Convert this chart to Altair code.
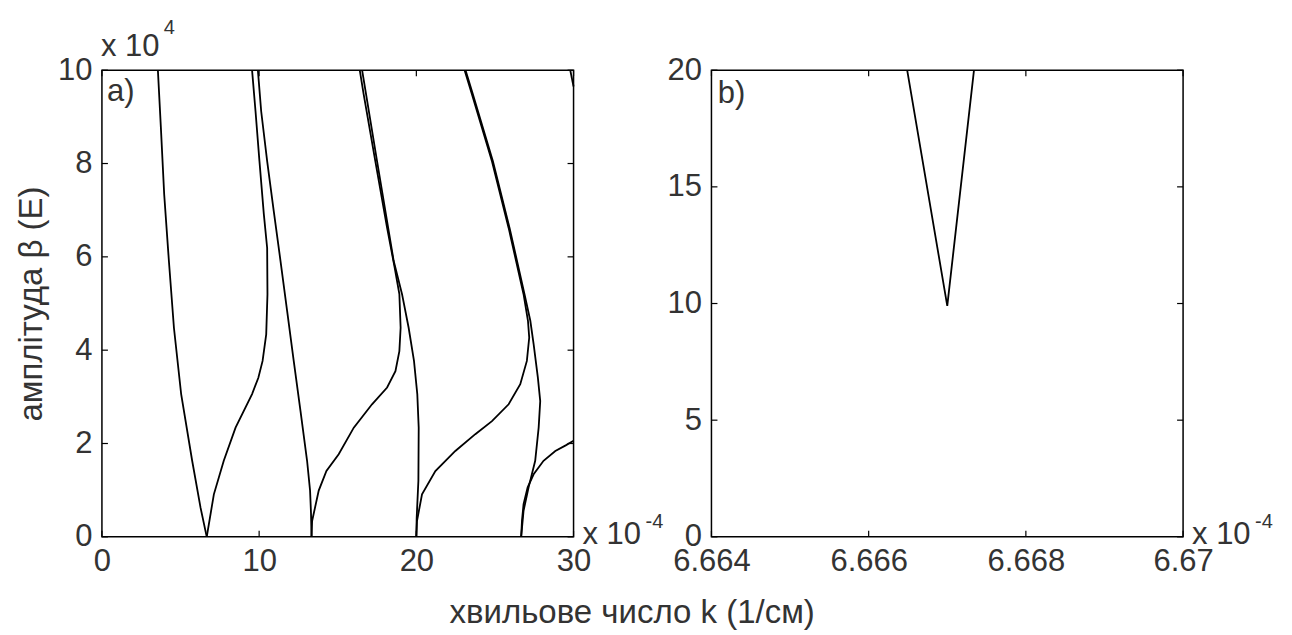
import altair as alt
import pandas as pd

# ---------------- panel a) data (k in 1e-4 1/cm, beta in 1e4) ----------------
C1_K = [3.56, 3.75, 3.96, 4.26, 4.58, 5.04, 5.74, 6.27, 6.667]
C1_B = [10.0, 8.77, 7.34, 5.91, 4.48, 3.06, 1.63, 0.63, 0.0]

C2_K = [6.667, 7.12, 7.75, 8.50, 9.55, 9.95, 10.22, 10.45, 10.53, 10.51, 10.30, 10.02, 9.77, 9.55]
C2_B = [0.0, 0.91, 1.63, 2.34, 3.06, 3.41, 3.77, 4.34, 5.20, 6.19, 6.91, 8.05, 9.12, 10.0]

C3_K = [9.92, 10.13, 10.51, 10.93, 11.36, 11.78, 12.20, 12.63, 13.05, 13.24, 13.30, 13.333]
C3_B = [10.0, 9.12, 8.05, 6.98, 5.91, 4.84, 3.77, 2.70, 1.63, 0.99, 0.50, 0.0]

C4_K = [13.333, 13.37, 13.79, 14.28, 15.06, 16.02, 17.18, 18.14, 18.67, 18.92, 19.00, 18.92, 18.62, 18.14, 17.39, 16.65, 16.40]
C4_B = [0.0, 0.34, 0.99, 1.41, 1.77, 2.34, 2.84, 3.20, 3.55, 3.98, 4.48, 5.20, 5.77, 6.62, 8.05, 9.48, 10.0]

C5_K = [16.55, 17.50, 18.56, 19.09, 19.51, 19.85, 20.06, 20.15, 20.13, 20.02, 20.0]
C5_B = [10.0, 8.05, 5.91, 5.20, 4.48, 3.77, 3.06, 2.34, 1.20, 0.40, 0.0]

C6_K = [20.0, 20.04, 20.36, 21.21, 22.48, 23.75, 24.81, 25.87, 26.61, 27.03, 27.18, 27.10, 26.82, 25.87, 24.81, 23.54, 23.07]
C6_B = [0.0, 0.34, 0.91, 1.41, 1.84, 2.20, 2.48, 2.84, 3.27, 3.77, 4.27, 4.63, 5.20, 6.62, 8.05, 9.48, 10.0]

C7_K = [23.13, 23.60, 24.87, 25.93, 26.88, 27.25, 27.46, 27.73, 27.88, 27.78, 27.56, 27.14, 26.82, 26.667]
C7_B = [10.0, 9.48, 8.05, 6.62, 5.20, 4.63, 4.13, 3.41, 2.91, 2.34, 1.63, 1.06, 0.56, 0.0]

C8_K = [26.667, 26.72, 26.82, 27.08, 27.46, 28.09, 28.84, 29.50, 30.0]
C8_B = [0.0, 0.35, 0.70, 1.06, 1.34, 1.63, 1.84, 1.96, 2.06]

C9_K = [29.79, 30.0]
C9_B = [10.0, 9.65]

# ---------------- panel b) data (k in 1e-4 1/cm, beta) ----------------
D1_K = [6.66649, 6.667, 6.66734]
D1_B = [20.0, 9.9, 20.0]

# ---------------- axes ----------------
A_XDOM = [0, 30]
A_YDOM = [0, 10]
A_XTICKS = [0, 10, 20, 30]
A_YTICKS = [0, 2, 4, 6, 8, 10]
B_XDOM = [6.664, 6.670]
B_YDOM = [0, 20]
B_XTICKS = [6.664, 6.666, 6.668, 6.670]
B_YTICKS = [0, 5, 10, 15, 20]

X_TITLE = "хвильове число k (1/см)"
Y_TITLE = "амплітуда β (E)"

# annotations (in data units of each panel)
A_NOTE_T = ["a)", "x 10", "x 10"]
A_NOTE_X = [0.32, -0.06, 30.57]
A_NOTE_Y = [9.34, 10.30, -0.15]
A_SUP_T = ["4", "-4"]
A_SUP_X = [3.94, 34.58]
A_SUP_Y = [10.77, 0.19]

B_NOTE_T = ["b)", "x 10"]
B_NOTE_X = [6.66408, 6.670114]
B_NOTE_Y = [18.59, -0.30]
B_SUP_T = ["-4"]
B_SUP_X = [6.670915]
B_SUP_Y = [0.385]

W, H = 472, 467
TICK = 6
FONT = "Liberation Sans"
TXT = "#333333"


def curves_df(curves):
    rows = []
    for name, (ks, bs) in curves.items():
        for i, (k, b) in enumerate(zip(ks, bs)):
            rows.append({"curve": name, "i": i, "k": k, "b": b})
    return pd.DataFrame(rows)


def panel(df, xdom, ydom, xt, yt, xfmt, notes, sups, ytitle):
    xs = alt.Scale(domain=xdom, nice=False, zero=False)
    ys = alt.Scale(domain=ydom, nice=False, zero=False)
    xaxis = alt.Axis(values=xt, format=xfmt, ticks=False, domain=False, grid=False,
                     labelFont=FONT, labelFontSize=31, labelColor=TXT,
                     labelPadding=10, labelFlush=False)
    yaxis = alt.Axis(values=yt, ticks=False, domain=False, grid=False,
                     labelFont=FONT, labelFontSize=31, labelColor=TXT,
                     labelPadding=10, titleFont=FONT, titleFontSize=33,
                     titleFontWeight="normal", titleColor=TXT, titlePadding=9)

    # identical axis definitions in every layer so that the shared axes merge
    def X(field):
        return alt.X(field, scale=xs, axis=xaxis, title=None)

    def Y(field):
        if ytitle:
            return alt.Y(field, scale=ys, axis=yaxis, title=Y_TITLE)
        return alt.Y(field, scale=ys, axis=yaxis, title=None)

    lines = alt.Chart(df).mark_line(color="black", strokeWidth=1.8).encode(
        x=X("k:Q"), y=Y("b:Q"), detail="curve:N", order="i:Q")

    xt_df = pd.DataFrame({"v": xt})
    yt_df = pd.DataFrame({"v": yt})
    rule = dict(color="black", strokeWidth=1.2)
    t_left = alt.Chart(yt_df).mark_rule(**rule).encode(
        y=Y("v:Q"), x=alt.value(0), x2=alt.value(TICK))
    t_right = alt.Chart(yt_df).mark_rule(**rule).encode(
        y=Y("v:Q"), x=alt.value(W), x2=alt.value(W - TICK))
    t_bot = alt.Chart(xt_df).mark_rule(**rule).encode(
        x=X("v:Q"), y=alt.value(H), y2=alt.value(H - TICK))
    t_top = alt.Chart(xt_df).mark_rule(**rule).encode(
        x=X("v:Q"), y=alt.value(0), y2=alt.value(TICK))

    nt, nx, ny = notes
    st, sx, sy = sups
    n_df = pd.DataFrame({"t": nt, "x": nx, "y": ny})
    s_df = pd.DataFrame({"t": st, "x": sx, "y": sy})
    t_notes = alt.Chart(n_df).mark_text(align="left", baseline="alphabetic", font=FONT,
                                         fontSize=31, color=TXT).encode(
        x=X("x:Q"), y=Y("y:Q"), text="t:N")
    t_sups = alt.Chart(s_df).mark_text(align="left", baseline="alphabetic", font=FONT,
                                        fontSize=20, color=TXT).encode(
        x=X("x:Q"), y=Y("y:Q"), text="t:N")

    return alt.layer(lines, t_left, t_right, t_bot, t_top, t_notes, t_sups).properties(
        width=W, height=H)


df_a = curves_df({
    "c1": (C1_K, C1_B), "c2": (C2_K, C2_B), "c3": (C3_K, C3_B),
    "c4": (C4_K, C4_B), "c5": (C5_K, C5_B), "c6": (C6_K, C6_B),
    "c7": (C7_K, C7_B), "c8": (C8_K, C8_B), "c9": (C9_K, C9_B),
})
df_b = curves_df({"d1": (D1_K, D1_B)})

pa = panel(df_a, A_XDOM, A_YDOM, A_XTICKS, A_YTICKS, "d",
           (A_NOTE_T, A_NOTE_X, A_NOTE_Y), (A_SUP_T, A_SUP_X, A_SUP_Y), True)
pb = panel(df_b, B_XDOM, B_YDOM, B_XTICKS, B_YTICKS, ".3~f",
           (B_NOTE_T, B_NOTE_X, B_NOTE_Y), (B_SUP_T, B_SUP_X, B_SUP_Y), False)

chart = alt.hconcat(pa, pb, spacing=1).properties(
    title=alt.TitleParams(X_TITLE, orient="bottom", anchor="middle", font=FONT,
                          fontSize=33, fontWeight="normal", color=TXT, offset=19, dx=-12),
    padding={"left": 6, "top": 9, "right": 10, "bottom": 5},
    background="white",
).configure_view(stroke="black", strokeWidth=1.5)

chart.save("out.html", embed_options={"renderer": "svg", "actions": False})
